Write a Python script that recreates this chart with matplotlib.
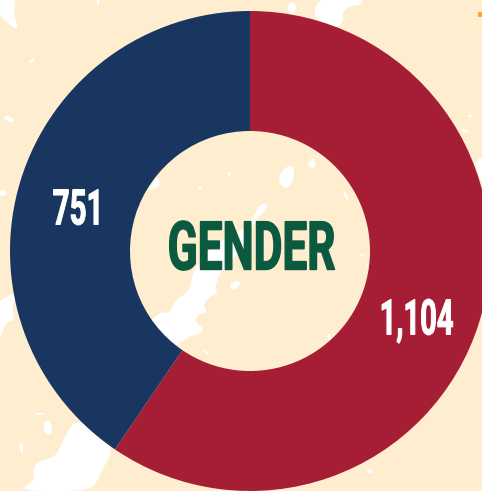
import matplotlib
matplotlib.use("Agg")
import matplotlib.pyplot as plt
from matplotlib.patches import Polygon, Ellipse
from matplotlib.transforms import Affine2D
import matplotlib.patheffects as pe
import numpy as np

categories = ["Female", "Male"]
values = [1104, 751]
labels = ["1,104", "751"]
center_title = "GENDER"
colors = ["#A51E36", "#18365F"]
CREAM = "#FEEDCF"
GREEN = "#0B5A40"

W, H = 482, 491
FONT = ["Roboto", "DejaVu Sans"]

fig = plt.figure(figsize=(W / 100, H / 100), dpi=100, facecolor=CREAM)

# decorative map backdrop, in pixel coordinates
bg = fig.add_axes([0, 0, 1, 1])
bg.set_xlim(0, W); bg.set_ylim(H, 0); bg.axis("off")

def smooth(pts, n=2):
    p = np.array(pts, float)
    for _ in range(n):
        q = np.roll(p, -1, axis=0)
        p = np.column_stack([0.75 * p + 0.25 * q, 0.25 * p + 0.75 * q]).reshape(-1, 2)
    return p

shapes = [
    # central streak
    [(263,203),(268,205),(265,212),(258,217),(253,225),(245,243),(230,263),(220,273),(215,287),(218,293),
     (208,298),(203,307),(208,312),(197,315),(195,322),(203,328),(202,333),(188,337),(177,345),(150,370),
     (125,350),(153,318),(162,312),(170,313),(175,300),(187,293),(190,287),(193,273),(202,258),(217,243),(243,230),(255,215),(258,207)],
    # lower left
    [(75,420),(67,433),(62,443),(55,457),(42,460),(32,468),(35,477),(30,483),(20,491),(90,491),
     (98,480),(102,470),(108,460),(112,450),(100,430)],
    # left edge
    [(-3,298),(15,298),(12,310),(15,320),(5,323),(3,333),(-3,340)],
    [(13,292),(18,300),(5,305),(-3,312),(-3,305)],
    # top right
    [(320,-3),(312,15),(330,30),(344,23),(342,13),(349,6),(362,5),(362,-3)],
    # top left
    [(-3,-3),(17,-3),(13,13),(18,27),(15,29),(5,20),(-3,14)],
    # right edge
    [(475,160),(485,156),(485,185),(480,180)],
    # inside the hole
    [(282,170),(292,164),(295,175),(290,186),(285,189),(278,181)],
    [(306,167),(313,155),(317,168)],
    [(152,185),(158,175),(161,187),(148,191)],
    [(18,445),(23,441),(23,457)],
    [(43,423),(50,419),(53,434),(45,435)],
]
for s in shapes:
    bg.add_patch(Polygon(smooth(s), closed=True, fc="white", ec="none"))
for x, y, w, h, a in [(292,8,8,13,0),(32,61,6,3,-30),(9,119,11,5,25),(98,2,3,6,0),(470,116,4,3,30),
                      (465,131,8,3,20),(370,471,6,4,30),(200,188,4,3,20),(229,174,3,4,0),(346,196,3,9,-35),
                      (362,255,6,2,-20),(235,285,11,7,-30),(206,352,2,9,-45),(329,337,3,7,-15),(39,414,9,2,0),
                      (3,193,7,6,0),(367,266,2,3,0)]:
    bg.add_patch(Ellipse((x, y), w, h, angle=a, fc="white", ec="none"))
bg.add_patch(Polygon([(478,12),(482,12),(482,17),(478,17)], fc="#F9A825", ec="none"))

# donut: centre (250,251), outer radius 240 px
R, cx, cy = 240, 250, 251
ax = fig.add_axes([0, 0, 1, 1])
ax.patch.set_alpha(0)
ax.pie(values, colors=colors, startangle=90, counterclock=False, radius=1,
       wedgeprops=dict(width=0.5, linewidth=0))
ax.set_xlim(-cx / R, (W - cx) / R)
ax.set_ylim((cy - H) / R, cy / R)
ax.set_aspect("equal")
ax.axis("off")


class Condense(pe.AbstractPathEffect):
    """Squeeze real text horizontally about an x pixel, and thicken its stems."""
    def __init__(self, x_px, sx, lw, color):
        super().__init__()
        self.x_px, self.sx, self.lw, self.color = x_px, sx, lw, color

    def draw_path(self, renderer, gc, tpath, affine, rgbFace=None):
        squeeze = Affine2D().translate(-self.x_px, 0).scale(self.sx, 1).translate(self.x_px, 0)
        g = renderer.new_gc()
        g.copy_properties(gc)
        g.set_linewidth(self.lw)
        g.set_foreground(self.color)
        g.set_joinstyle("miter")
        renderer.draw_path(g, tpath, affine + squeeze, rgbFace)
        g.restore()


def tx(x, baseline, s, size, color, sx, lw):
    t = ax.text((x - cx) / R, (cy - baseline) / R, s, fontsize=size, color=color, ha="center",
                va="baseline", family=FONT, fontweight="bold")
    t.set_path_effects([Condense(x, sx, lw, color)])


tx(251.5, 269.5, center_title, 48.5, GREEN, 0.655, 1.0)
tx(78, 224.5, labels[1], 35.5, "white", 0.60, 0.7)
tx(416.5, 334.5, labels[0], 35.5, "white", 0.59, 0.7)

fig.savefig("out.png", dpi=100, facecolor=CREAM)
